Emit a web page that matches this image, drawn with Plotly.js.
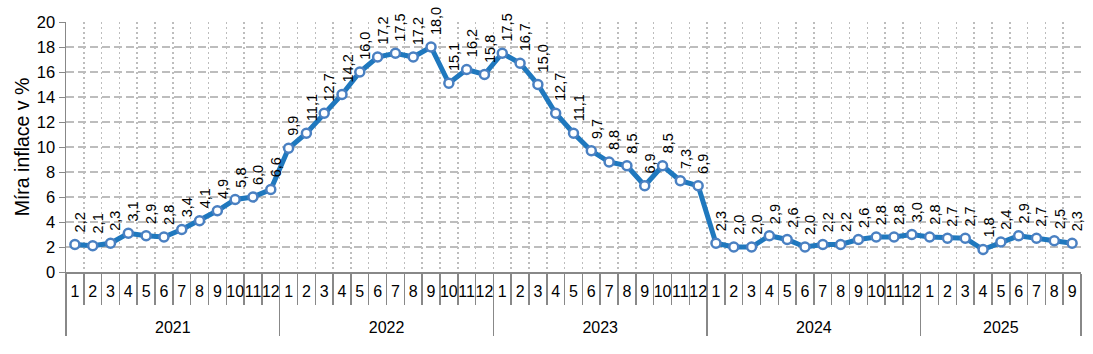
<!DOCTYPE html>
<html><head><meta charset="utf-8">
<script src="https://cdn.plot.ly/plotly-3.0.1.min.js"></script>
<style>html,body{margin:0;padding:0;background:#fff}#chart{width:1093px;height:354px}</style>
</head><body><div id="chart"></div>
<script>
const years = ["2021","2022","2023","2024","2025"];
const inflation2021 = [2.2,2.1,2.3,3.1,2.9,2.8,3.4,4.1,4.9,5.8,6.0,6.6];
const inflation2022 = [9.9,11.1,12.7,14.2,16.0,17.2,17.5,17.2,18.0,15.1,16.2,15.8];
const inflation2023 = [17.5,16.7,15.0,12.7,11.1,9.7,8.8,8.5,6.9,8.5,7.3,6.9];
const inflation2024 = [2.3,2.0,2.0,2.9,2.6,2.0,2.2,2.2,2.6,2.8,2.8,3.0];
const inflation2025 = [2.8,2.7,2.7,1.8,2.4,2.9,2.7,2.5,2.3];

const series = [inflation2021,inflation2022,inflation2023,inflation2024,inflation2025];
const xYear = [], xMonth = [], yVals = [];
series.forEach((arr,i)=>{arr.forEach((v,j)=>{xYear.push(' <br>'+years[i]);xMonth.push(String(j+1));yVals.push(v);});});

const font = "Liberation Sans, Arial, sans-serif";
const annotations = yVals.map((v,i)=>({
  x: i, y: v, xref:'x', yref:'y',
  text: v.toFixed(1).replace('.',','),
  showarrow:false, textangle:-90,
  xanchor:'center', yanchor:'bottom', yshift:10, xshift:5,
  font:{family:font,size:14.5,color:'#000'}
}));

const trace = {
  x:[xYear,xMonth], y:yVals, type:'scatter', mode:'lines+markers',
  line:{color:'#1F78BE',width:5},
  marker:{size:9,color:'#fff',line:{color:'#4A80C2',width:2.5}},
  hoverinfo:'skip', cliponaxis:false
};

const layout = {
  width:1093, height:354,
  margin:{l:66,r:12,t:22,b:82},
  paper_bgcolor:'#fff', plot_bgcolor:'#fff',
  showlegend:false,
  font:{family:font,size:16,color:'#000'},
  xaxis:{type:'multicategory', showgrid:true, gridcolor:'#bdbdbd', griddash:'2px,3px', gridwidth:1.5,
    tickson:'boundaries', ticks:'outside', ticklen:31, tickcolor:'#888', tickwidth:1.5,
    tickangle:0, tickmode:'linear', tick0:0, dtick:1, ticklabelstandoff:4,
    showline:true, linecolor:'#888', linewidth:1.5,
    showdividers:true, dividercolor:'#888', dividerwidth:1.5,
    tickfont:{family:font,size:16,color:'#000'}, zeroline:false, range:[-0.5,56.5]},
  yaxis:{range:[0,20], dtick:2, showgrid:true, gridcolor:'#bdbdbd', griddash:'8px,4px', gridwidth:1.5,
    ticks:'outside', ticklen:6, tickcolor:'#888', showline:true, linecolor:'#888', linewidth:1.5,
    zeroline:false, tickfont:{family:font,size:16.5,color:'#000'},
    title:{text:'Míra inflace v %', font:{family:font,size:19.5,color:'#000'}, standoff:2}},
  annotations: annotations
};
Plotly.newPlot('chart',[trace],layout,{staticPlot:true,displayModeBar:false});
</script></body></html>
